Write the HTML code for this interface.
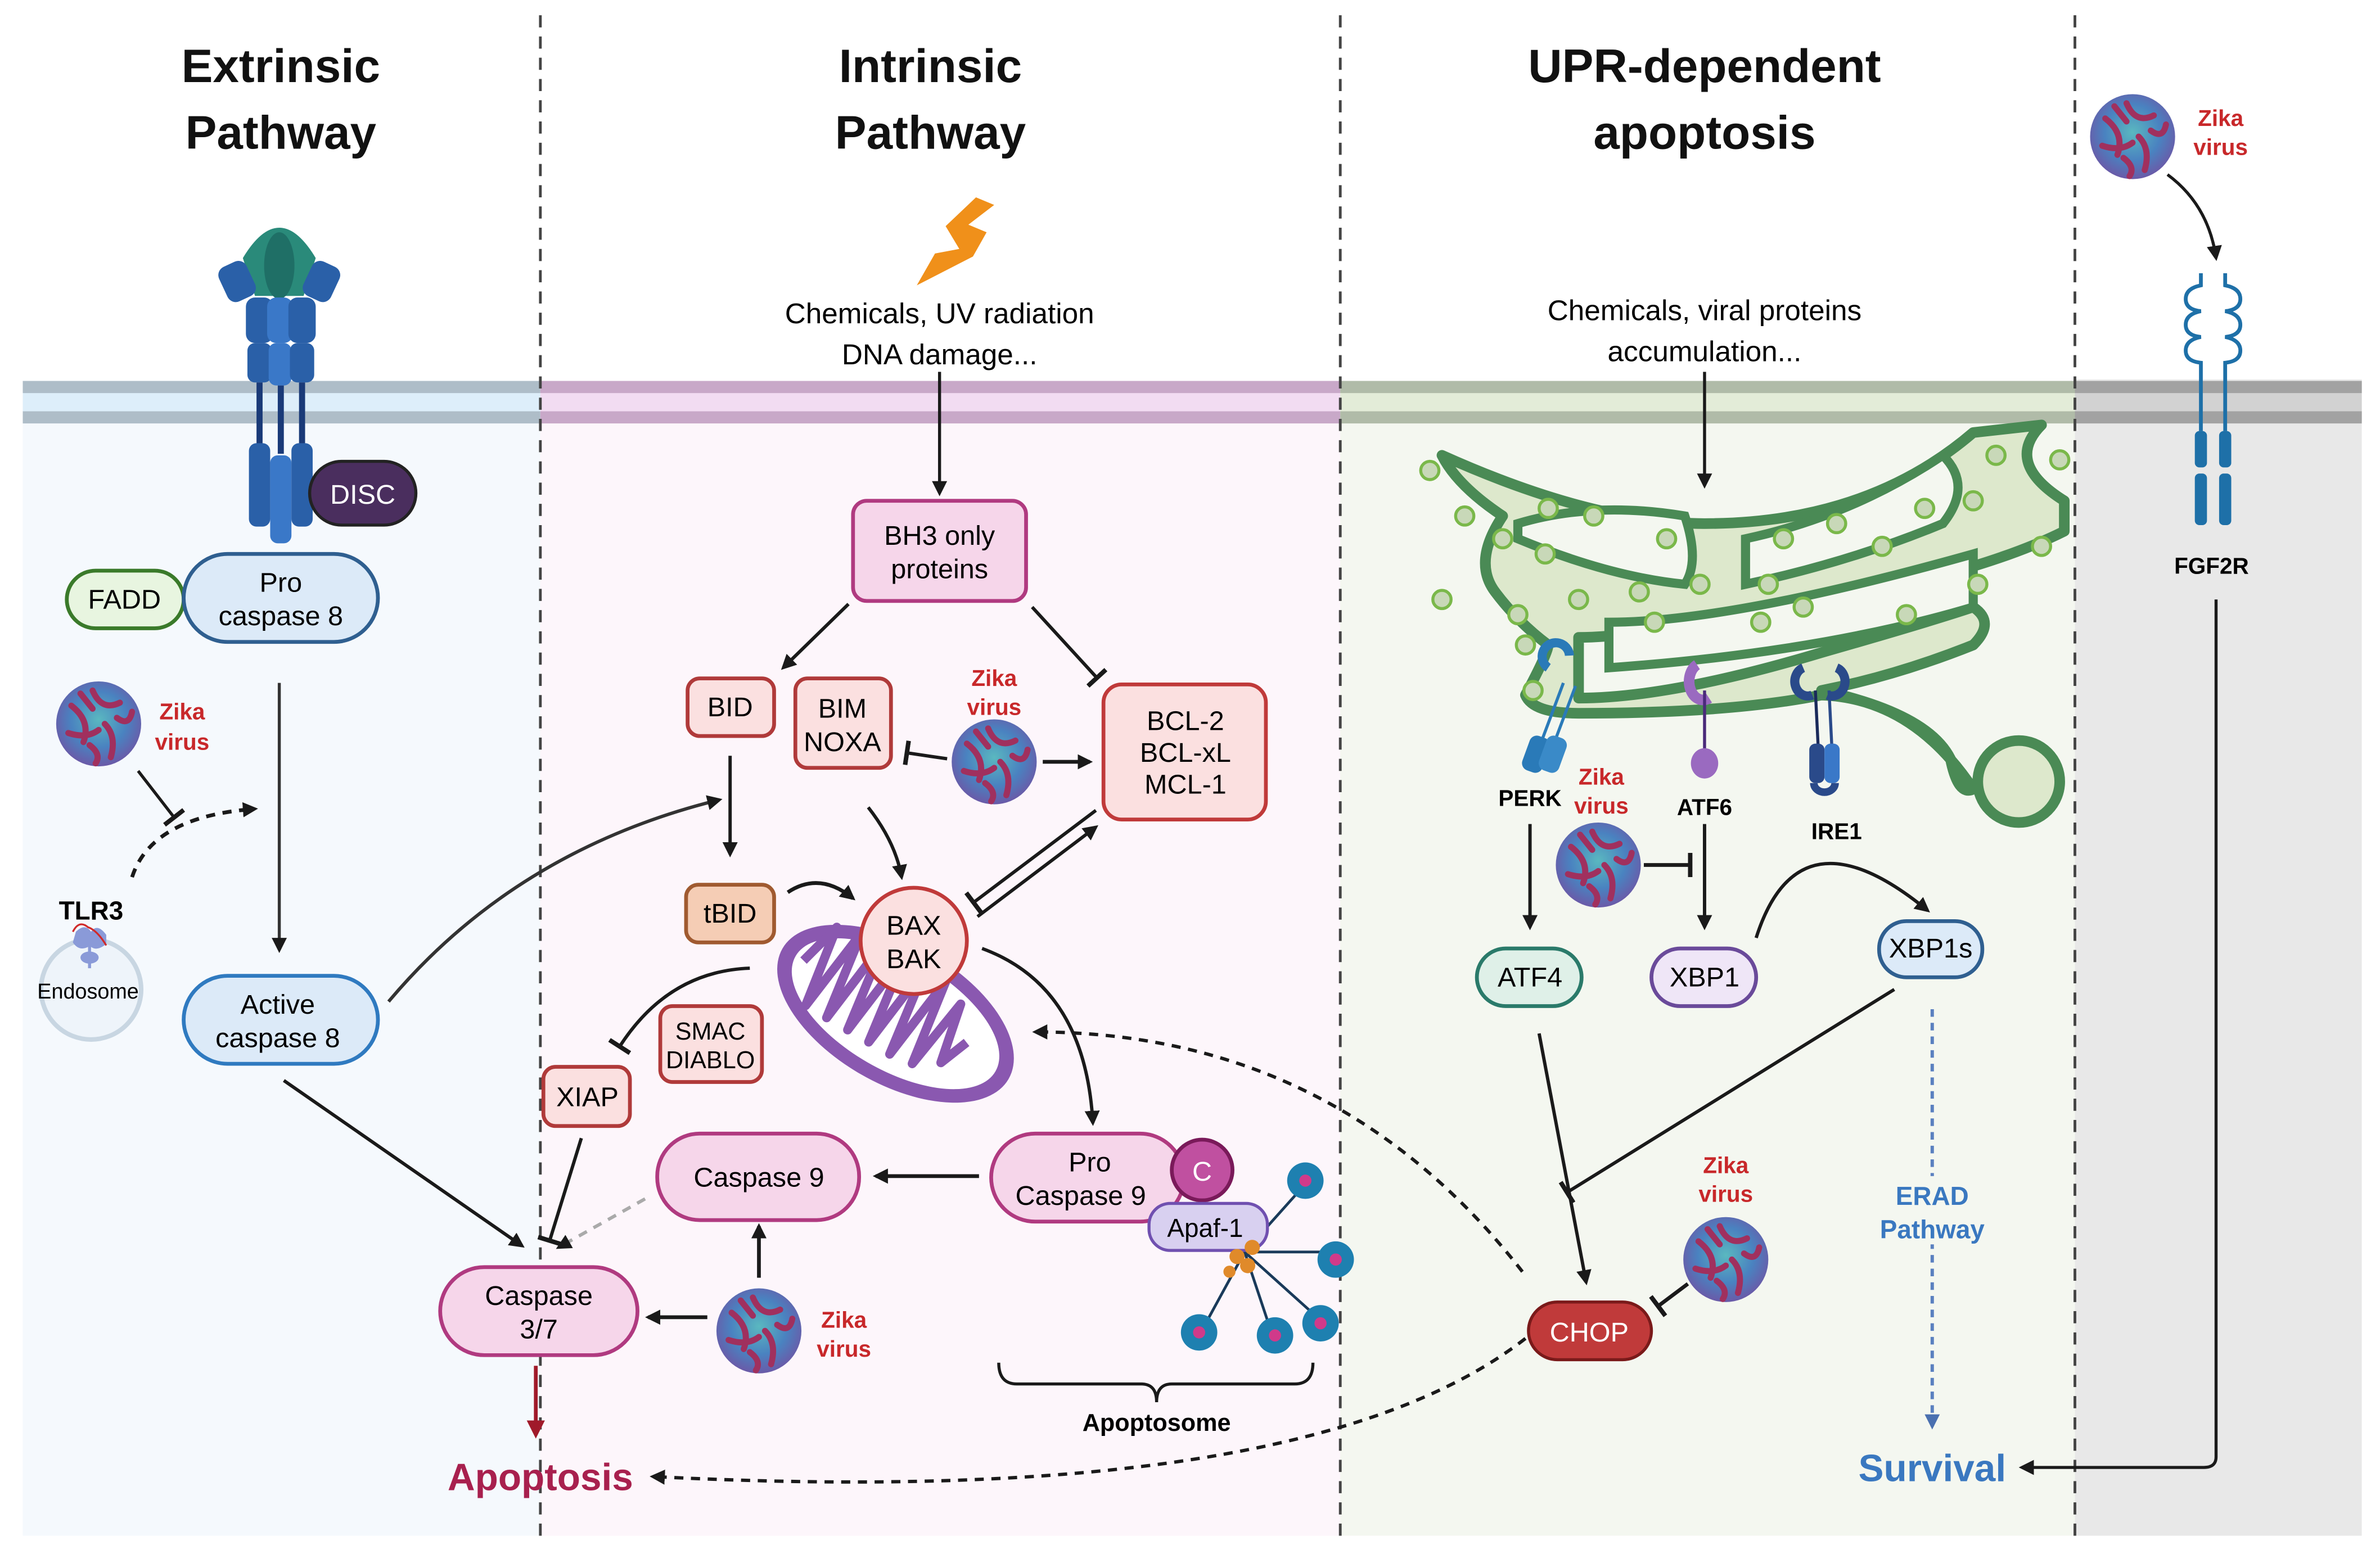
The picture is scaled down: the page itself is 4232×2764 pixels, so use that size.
<!DOCTYPE html>
<html><head><meta charset="utf-8">
<style>
html,body{margin:0;padding:0;background:#fff;}
svg{display:block;}
text{font-family:"Liberation Sans",sans-serif;}
</style></head>
<body>
<svg width="4232" height="2764" viewBox="0 0 1568 1024" xmlns="http://www.w3.org/2000/svg">
<defs>
<marker id="ah" markerWidth="10" markerHeight="10" refX="8" refY="5" orient="auto" markerUnits="userSpaceOnUse"><path d="M0,0 L10,5 L0,10 z" fill="#1a1a1a"/></marker>
<marker id="ahr" markerWidth="12" markerHeight="12" refX="9" refY="6" orient="auto" markerUnits="userSpaceOnUse"><path d="M0,0 L12,6 L0,12 z" fill="#a01a2a"/></marker>
<marker id="ahb" markerWidth="10" markerHeight="10" refX="8" refY="5" orient="auto" markerUnits="userSpaceOnUse"><path d="M0,0 L10,5 L0,10 z" fill="#4a70b0"/></marker>
<marker id="tb" markerWidth="4" markerHeight="16" refX="2" refY="8" orient="auto" markerUnits="userSpaceOnUse"><rect x="0" y="0" width="3" height="16" fill="#1a1a1a"/></marker>
<radialGradient id="zg" cx="50%" cy="45%" r="55%"><stop offset="0" stop-color="#5ab8c0"/><stop offset="0.6" stop-color="#4a82c0"/><stop offset="1" stop-color="#6a5aa8"/></radialGradient>
<g id="zika">
<circle r="28" fill="url(#zg)"/>
<path d="M-18,-12 Q-5,-2 -10,12 M-4,-22 Q2,-8 14,-14 M4,0 Q12,8 8,22 M-20,6 Q-8,10 0,4 M12,-4 Q20,2 22,-8 M-6,14 Q2,20 -2,26 M-12,-20 L-4,-10" stroke="#a0305e" stroke-width="4" fill="none" stroke-linecap="round"/>
</g>
</defs>

<!-- backgrounds -->
<rect x="15" y="278" width="341" height="734" fill="#f5f9fd"/>
<rect x="356" y="278" width="527" height="734" fill="#fdf6fb"/>
<rect x="883" y="278" width="484" height="734" fill="#f4f7f0"/>
<rect x="1367" y="250" width="189" height="762" fill="#e8e8e8"/>
<!-- membranes -->
<rect x="15" y="251" width="341" height="27" fill="#ddeefa"/><rect x="15" y="251" width="341" height="8" fill="#aebdc8"/><rect x="15" y="271" width="341" height="8" fill="#aebdc8"/>
<rect x="356" y="251" width="527" height="27" fill="#f2dcf2"/><rect x="356" y="251" width="527" height="8" fill="#c8a8c8"/><rect x="356" y="271" width="527" height="8" fill="#c8a8c8"/>
<rect x="883" y="251" width="484" height="27" fill="#e3ecd8"/><rect x="883" y="251" width="484" height="8" fill="#b0bba8"/><rect x="883" y="271" width="484" height="8" fill="#b0bba8"/>
<rect x="1367" y="251" width="189" height="27" fill="#d2d2d2"/><rect x="1367" y="251" width="189" height="8" fill="#a2a2a2"/><rect x="1367" y="271" width="189" height="8" fill="#a2a2a2"/>

<!-- dashed separators -->
<g stroke="#444" stroke-width="1.8" stroke-dasharray="8,6">
<line x1="356" y1="10" x2="356" y2="1015"/><line x1="883" y1="10" x2="883" y2="1015"/><line x1="1367" y1="10" x2="1367" y2="1015"/>
</g>

<!-- titles -->
<g font-weight="bold" font-size="31" text-anchor="middle" fill="#111">
<text x="185" y="54">Extrinsic</text><text x="185" y="98">Pathway</text>
<text x="613" y="54">Intrinsic</text><text x="613" y="98">Pathway</text>
<text x="1123" y="54">UPR-dependent</text><text x="1123" y="98">apoptosis</text>
</g>

<!-- ===== Extrinsic ===== -->
<g>
<path d="M160,170 Q184,130 208,170 L200,195 L168,195 Z" fill="#2a8a7a"/>
<ellipse cx="184" cy="175" rx="10" ry="22" fill="#1f6f66"/>
<rect x="146" y="173" width="20" height="25" rx="6" fill="#2a60a8" transform="rotate(-25 156 185)"/>
<rect x="202" y="173" width="20" height="25" rx="6" fill="#2a60a8" transform="rotate(25 212 185)"/>
<rect x="162" y="196" width="18" height="30" rx="6" fill="#2a60a8"/><rect x="176" y="196" width="17" height="30" rx="6" fill="#3a78c8"/><rect x="190" y="196" width="18" height="30" rx="6" fill="#2a60a8"/>
<rect x="163" y="226" width="16" height="26" rx="5" fill="#2a60a8"/><rect x="177" y="226" width="15" height="28" rx="5" fill="#3a78c8"/><rect x="191" y="226" width="16" height="26" rx="5" fill="#2a60a8"/>
<rect x="169" y="252" width="4" height="45" fill="#1a3a78"/><rect x="183" y="254" width="4" height="45" fill="#1a3a78"/><rect x="197" y="252" width="4" height="45" fill="#1a3a78"/>
<rect x="164" y="292" width="14" height="55" rx="5" fill="#2a60a8"/><rect x="178" y="300" width="14" height="58" rx="5" fill="#3a78c8"/><rect x="192" y="292" width="14" height="55" rx="5" fill="#2a60a8"/>
<rect x="204" y="304" width="70" height="42" rx="21" fill="#4a2e5e" stroke="#222" stroke-width="2"/>
<text x="239" y="332" font-size="18" fill="#fff" text-anchor="middle">DISC</text>
<rect x="44" y="376" width="77" height="38" rx="19" fill="#e8f5e0" stroke="#3a7a2a" stroke-width="2.5"/>
<text x="82" y="401" font-size="18" text-anchor="middle">FADD</text>
<rect x="121" y="365" width="128" height="58" rx="29" fill="#dceaf8" stroke="#2f5f90" stroke-width="2.5"/>
<text x="185" y="390" font-size="18" text-anchor="middle">Pro</text><text x="185" y="412" font-size="18" text-anchor="middle">caspase 8</text>
<use href="#zika" x="65" y="477"/>
<text x="120" y="474" font-size="15" font-weight="bold" fill="#c8282a" text-anchor="middle">Zika</text>
<text x="120" y="494" font-size="15" font-weight="bold" fill="#c8282a" text-anchor="middle">virus</text>
<line x1="184" y1="450" x2="184" y2="626" stroke="#333" stroke-width="2" marker-end="url(#ah)"/>
<path d="M87,578 Q100,538 168,533" stroke="#1a1a1a" stroke-width="2.5" fill="none" stroke-dasharray="6,5" marker-end="url(#ah)"/>
<line x1="91" y1="508" x2="115" y2="539" stroke="#1a1a1a" stroke-width="2" marker-end="url(#tb)"/>
<text x="60" y="606" font-size="17" font-weight="bold" text-anchor="middle">TLR3</text>
<circle cx="60" cy="652" r="33" fill="#eef4fa" stroke="#c8d6e2" stroke-width="3"/>
<path d="M50,614 q6,-6 10,0 q4,-6 10,2 v6 q-6,5 -10,2 v14 h-2 v-14 q-6,3 -10,-3 z" fill="#8a9ad8"/>
<ellipse cx="59" cy="631" rx="6" ry="4" fill="#8a9ad8"/>
<path d="M48,614 q4,-8 10,-3 q6,2 12,12" stroke="#d02a2a" stroke-width="1.2" fill="none"/>
<text x="58" y="658" font-size="14" text-anchor="middle">Endosome</text>
<rect x="121" y="643" width="128" height="58" rx="29" fill="#dceaf8" stroke="#2f7ac0" stroke-width="2.5"/>
<text x="183" y="668" font-size="18" text-anchor="middle">Active</text><text x="183" y="690" font-size="18" text-anchor="middle">caspase 8</text>
<line x1="187" y1="712" x2="344" y2="821" stroke="#1a1a1a" stroke-width="2.2" marker-end="url(#ah)"/>
<path d="M256,660 Q340,560 474,527" stroke="#333" stroke-width="2.2" fill="none" marker-end="url(#ah)"/>
<rect x="290" y="835" width="130" height="58" rx="29" fill="#f6d6ea" stroke="#b03a80" stroke-width="2.5"/>
<text x="355" y="860" font-size="18" text-anchor="middle">Caspase</text><text x="355" y="882" font-size="18" text-anchor="middle">3/7</text>
<line x1="353" y1="900" x2="353" y2="945" stroke="#a01a2a" stroke-width="2.5" marker-end="url(#ahr)"/>
<text x="356" y="982" font-size="25" font-weight="bold" fill="#a8204e" text-anchor="middle">Apoptosis</text>
</g>

<!-- ===== Intrinsic ===== -->
<g>
<polygon points="643,130 655,135 638,148 650,153 641,169 604,188 616,167 632,164 623,149" fill="#f0901a"/>
<text x="619" y="213" font-size="19" text-anchor="middle">Chemicals, UV radiation</text>
<text x="619" y="240" font-size="19" text-anchor="middle">DNA damage...</text>
<line x1="619" y1="245" x2="619" y2="325" stroke="#1a1a1a" stroke-width="2" marker-end="url(#ah)"/>
<rect x="562" y="330" width="114" height="66" rx="9" fill="#f6d6ea" stroke="#b03a80" stroke-width="2.5"/>
<text x="619" y="359" font-size="18" text-anchor="middle">BH3 only</text><text x="619" y="381" font-size="18" text-anchor="middle">proteins</text>
<line x1="559" y1="398" x2="516" y2="440" stroke="#1a1a1a" stroke-width="2.2" marker-end="url(#ah)"/>
<line x1="680" y1="400" x2="723" y2="447" stroke="#1a1a1a" stroke-width="2.2" marker-end="url(#tb)"/>
<rect x="453" y="447" width="57" height="38" rx="8" fill="#fbe0e0" stroke="#b03a3a" stroke-width="2.5"/>
<text x="481" y="472" font-size="18" text-anchor="middle">BID</text>
<rect x="524" y="447" width="63" height="59" rx="8" fill="#fbe0e0" stroke="#b03a3a" stroke-width="2.5"/>
<text x="555" y="473" font-size="18" text-anchor="middle">BIM</text><text x="555" y="495" font-size="18" text-anchor="middle">NOXA</text>
<use href="#zika" x="655" y="502"/>
<text x="655" y="452" font-size="15" font-weight="bold" fill="#c8282a" text-anchor="middle">Zika</text>
<text x="655" y="471" font-size="15" font-weight="bold" fill="#c8282a" text-anchor="middle">virus</text>
<line x1="624" y1="500" x2="597" y2="496" stroke="#1a1a1a" stroke-width="2.2" marker-end="url(#tb)"/>
<line x1="687" y1="502" x2="718" y2="502" stroke="#1a1a1a" stroke-width="2.5" marker-end="url(#ah)"/>
<rect x="727" y="451" width="107" height="89" rx="12" fill="#fbe0e0" stroke="#c03a3a" stroke-width="2.5"/>
<text x="781" y="481" font-size="18" text-anchor="middle">BCL-2</text><text x="781" y="502" font-size="18" text-anchor="middle">BCL-xL</text><text x="781" y="523" font-size="18" text-anchor="middle">MCL-1</text>
<line x1="481" y1="498" x2="481" y2="563" stroke="#1a1a1a" stroke-width="2.2" marker-end="url(#ah)"/>
<path d="M519,588 Q540,574 562,592" stroke="#1a1a1a" stroke-width="2.5" fill="none" marker-end="url(#ah)"/>
<path d="M572,532 Q590,555 594,578" stroke="#1a1a1a" stroke-width="2.2" fill="none" marker-end="url(#ah)"/>
<rect x="452" y="583" width="58" height="38" rx="8" fill="#f5cdb5" stroke="#a05a30" stroke-width="2.5"/>
<text x="481" y="608" font-size="18" text-anchor="middle">tBID</text>
<line x1="722" y1="534" x2="641" y2="595" stroke="#1a1a1a" stroke-width="2.2" marker-end="url(#tb)"/>
<line x1="644" y1="604" x2="722" y2="545" stroke="#1a1a1a" stroke-width="2.2" marker-end="url(#ah)"/>
<!-- mitochondrion -->
<g transform="rotate(30 590 668)">
<ellipse cx="590" cy="668" rx="86" ry="46" fill="#8a58b0"/>
<ellipse cx="590" cy="668" rx="76" ry="37" fill="#fff"/>
<path d="M520,668 l8,-30 l8,55 l8,-60 l8,60 l8,-62 l8,62 l8,-62 l8,62 l8,-62 l8,62 l8,-60 l8,58 l8,-50 l8,40 l8,-20" stroke="#8a58b0" stroke-width="6" fill="none" stroke-linejoin="round"/>
</g>
<circle cx="602" cy="620" r="35" fill="#fbe0e0" stroke="#c03a3a" stroke-width="2.5"/>
<text x="602" y="616" font-size="18" text-anchor="middle">BAX</text><text x="602" y="638" font-size="18" text-anchor="middle">BAK</text>
<rect x="435" y="663" width="67" height="50" rx="8" fill="#fbe0e0" stroke="#b03a3a" stroke-width="2.5"/>
<text x="468" y="685" font-size="16" text-anchor="middle">SMAC</text><text x="468" y="704" font-size="16" text-anchor="middle">DIABLO</text>
<path d="M494,638 Q440,640 408,690" stroke="#1a1a1a" stroke-width="2.2" fill="none" marker-end="url(#tb)"/>
<rect x="358" y="703" width="57" height="39" rx="8" fill="#fbe0e0" stroke="#b03a3a" stroke-width="2.5"/>
<text x="387" y="729" font-size="18" text-anchor="middle">XIAP</text>
<line x1="383" y1="750" x2="362" y2="818" stroke="#1a1a1a" stroke-width="2.2" marker-end="url(#tb)"/>
<path d="M647,625 Q715,650 720,740" stroke="#1a1a1a" stroke-width="2.2" fill="none" marker-end="url(#ah)"/>
<rect x="433" y="747" width="133" height="57" rx="28" fill="#f6d6ea" stroke="#b03a80" stroke-width="2.5"/>
<text x="500" y="782" font-size="18" text-anchor="middle">Caspase 9</text>
<rect x="653" y="747" width="127" height="58" rx="29" fill="#f6d6ea" stroke="#b03a80" stroke-width="2.5"/>
<text x="718" y="772" font-size="18" text-anchor="middle">Pro</text><text x="712" y="794" font-size="18" text-anchor="middle">Caspase 9</text>
<circle cx="792" cy="771" r="20" fill="#c050a0" stroke="#7a1a5a" stroke-width="2.5"/>
<text x="792" y="778" font-size="18" fill="#fff" text-anchor="middle">C</text>
<line x1="645" y1="775" x2="577" y2="775" stroke="#1a1a1a" stroke-width="2.5" marker-end="url(#ah)"/>
<line x1="425" y1="790" x2="368" y2="822" stroke="#aaa" stroke-width="2.2" stroke-dasharray="6,5" marker-end="url(#ah)"/>
<!-- apoptosome -->
<g stroke="#1a3a5a" stroke-width="1.8" fill="none">
<path d="M820,825 L862,778 M820,825 L880,825 M820,825 L870,870 M820,825 L840,885 M820,825 L790,880"/>
</g>
<g fill="#1e80b0">
<circle cx="860" cy="778" r="12"/><circle cx="880" cy="830" r="12"/><circle cx="870" cy="872" r="12"/><circle cx="840" cy="880" r="12"/><circle cx="790" cy="878" r="12"/>
</g>
<g fill="#d03a8a"><circle cx="860" cy="778" r="4"/><circle cx="880" cy="830" r="4"/><circle cx="870" cy="872" r="4"/><circle cx="840" cy="880" r="4"/><circle cx="790" cy="878" r="4"/></g>
<rect x="757" y="793" width="78" height="31" rx="14" fill="#d8d0f0" stroke="#7050b0" stroke-width="2"/>
<text x="794" y="815" font-size="17" text-anchor="middle">Apaf-1</text>
<g fill="#e08a2a"><circle cx="815" cy="828" r="5"/><circle cx="825" cy="822" r="5"/><circle cx="822" cy="834" r="5"/><circle cx="810" cy="838" r="4"/></g>
<path d="M658,898 Q658,912 670,912 L752,912 Q762,912 762,924 Q762,912 772,912 L853,912 Q865,912 865,898" stroke="#1a1a1a" stroke-width="2" fill="none"/>
<text x="762" y="943" font-size="16" font-weight="bold" text-anchor="middle">Apoptosome</text>
<use href="#zika" x="500" y="877"/>
<text x="556" y="875" font-size="15" font-weight="bold" fill="#c8282a" text-anchor="middle">Zika</text>
<text x="556" y="894" font-size="15" font-weight="bold" fill="#c8282a" text-anchor="middle">virus</text>
<line x1="500" y1="842" x2="500" y2="808" stroke="#1a1a1a" stroke-width="2.5" marker-end="url(#ah)"/>
<line x1="466" y1="868" x2="427" y2="868" stroke="#1a1a1a" stroke-width="2.5" marker-end="url(#ah)"/>
<path d="M1003,838 Q880,680 682,680" stroke="#1a1a1a" stroke-width="2.2" fill="none" stroke-dasharray="6,5" marker-end="url(#ah)"/>
<path d="M1005,882 Q860,995 430,973" stroke="#1a1a1a" stroke-width="2.2" fill="none" stroke-dasharray="6,5" marker-end="url(#ah)"/>
</g>

<!-- ===== UPR ===== -->
<g>
<text x="1123" y="211" font-size="19" text-anchor="middle">Chemicals, viral proteins</text>
<text x="1123" y="238" font-size="19" text-anchor="middle">accumulation...</text>
<!-- ER -->
<g stroke="#4a8a55" stroke-width="7" fill="#dde8cc" stroke-linejoin="round">
<path d="M950,300 Q1050,345 1123,345 Q1230,345 1300,285 L1345,280 Q1320,305 1360,330 L1360,350 Q1300,380 1180,400 Q1080,420 1040,420 L1040,460 Q1100,460 1200,430 Q1270,410 1300,400 Q1315,410 1300,425 Q1250,445 1200,455 Q1270,470 1285,500 Q1290,525 1300,520 Q1260,460 1200,458 Q1140,470 1040,470 Q1010,470 1005,458 Q1020,430 1020,425 Q1000,410 985,390 Q970,370 990,340 Q960,320 950,300 Z"/>
</g>
<g stroke="#4a8a55" stroke-width="6" fill="#f4f7f0">
<path d="M1000,355 Q1060,380 1110,385 Q1120,370 1110,340 Q1050,330 1000,345 Z"/>
<path d="M1150,355 Q1220,340 1280,300 Q1300,320 1280,345 Q1220,370 1150,385 Z"/>
<path d="M1060,410 Q1140,410 1300,365 L1300,400 Q1200,430 1060,440 Z"/>
</g>
<circle cx="1330" cy="515" r="27" fill="#dde8cc" stroke="#4a8a55" stroke-width="7"/>
<g fill="#c8d8b8" stroke="#7ab84a" stroke-width="2">
<circle cx="942" cy="310" r="6"/><circle cx="965" cy="340" r="6"/><circle cx="950" cy="395" r="6"/><circle cx="990" cy="355" r="6"/><circle cx="1018" cy="365" r="6"/><circle cx="1040" cy="395" r="6"/><circle cx="1080" cy="390" r="6"/><circle cx="1098" cy="355" r="6"/><circle cx="1165" cy="385" r="6"/><circle cx="1175" cy="355" r="6"/><circle cx="1210" cy="345" r="6"/><circle cx="1240" cy="360" r="6"/><circle cx="1268" cy="335" r="6"/><circle cx="1300" cy="330" r="6"/><circle cx="1315" cy="300" r="6"/><circle cx="1357" cy="303" r="6"/><circle cx="1345" cy="360" r="6"/><circle cx="1303" cy="385" r="6"/><circle cx="1256" cy="405" r="6"/><circle cx="1188" cy="400" r="6"/><circle cx="1160" cy="410" r="6"/><circle cx="1120" cy="385" r="6"/><circle cx="1000" cy="405" r="6"/><circle cx="1050" cy="340" r="6"/><circle cx="1090" cy="410" r="6"/><circle cx="1005" cy="425" r="6"/><circle cx="1020" cy="335" r="6"/><circle cx="1010" cy="455" r="6"/>
</g>
<line x1="1123" y1="245" x2="1123" y2="320" stroke="#1a1a1a" stroke-width="2" marker-end="url(#ah)"/>
<!-- receptors -->
<path d="M1020,440 a9,9 0 1 1 14,-8" stroke="#2a7ab8" stroke-width="6" fill="none"/>
<line x1="1030" y1="450" x2="1015" y2="490" stroke="#2a7ab8" stroke-width="2"/><line x1="1038" y1="452" x2="1023" y2="492" stroke="#2a7ab8" stroke-width="2"/>
<rect x="1005" y="485" width="14" height="24" rx="5" fill="#2a7ab8" transform="rotate(20 1012 497)"/><rect x="1016" y="485" width="14" height="24" rx="5" fill="#3a8ac8" transform="rotate(20 1023 497)"/>
<path d="M1118,438 a9,12 0 0 0 8,22" stroke="#9a6ac0" stroke-width="7" fill="none"/>
<line x1="1123" y1="455" x2="1123" y2="495" stroke="#4a2a7a" stroke-width="2"/>
<ellipse cx="1123" cy="503" rx="9" ry="10" fill="#9a6ac0"/>
<path d="M1188,440 a8,9 0 0 0 6,18 M1210,440 a8,9 0 0 1 -6,18" stroke="#2a4a8a" stroke-width="6" fill="none"/>
<line x1="1196" y1="455" x2="1198" y2="495" stroke="#1a2a5a" stroke-width="2"/><line x1="1205" y1="455" x2="1207" y2="495" stroke="#2a4a8a" stroke-width="2"/>
<rect x="1192" y="490" width="10" height="26" rx="4" fill="#2a4a8a"/><rect x="1202" y="490" width="10" height="26" rx="4" fill="#3a78c8"/>
<path d="M1195,516 a7,6 0 0 0 14,0" stroke="#2a4a8a" stroke-width="5" fill="none"/>
<text x="1008" y="531" font-size="15" font-weight="bold" text-anchor="middle">PERK</text>
<text x="1123" y="537" font-size="15" font-weight="bold" text-anchor="middle">ATF6</text>
<text x="1210" y="553" font-size="15" font-weight="bold" text-anchor="middle">IRE1</text>
<text x="1055" y="517" font-size="15" font-weight="bold" fill="#c8282a" text-anchor="middle">Zika</text>
<text x="1055" y="536" font-size="15" font-weight="bold" fill="#c8282a" text-anchor="middle">virus</text>
<use href="#zika" x="1053" y="570"/>
<line x1="1083" y1="570" x2="1114" y2="570" stroke="#1a1a1a" stroke-width="2.5" marker-end="url(#tb)"/>
<line x1="1008" y1="543" x2="1008" y2="611" stroke="#1a1a1a" stroke-width="2.2" marker-end="url(#ah)"/>
<line x1="1123" y1="543" x2="1123" y2="611" stroke="#1a1a1a" stroke-width="2.2" marker-end="url(#ah)"/>
<rect x="973" y="625" width="69" height="38" rx="19" fill="#dff0e8" stroke="#2a7a6a" stroke-width="2.5"/>
<text x="1008" y="650" font-size="18" text-anchor="middle">ATF4</text>
<rect x="1088" y="625" width="69" height="38" rx="19" fill="#efe6f7" stroke="#6a4a9a" stroke-width="2.5"/>
<text x="1123" y="650" font-size="18" text-anchor="middle">XBP1</text>
<rect x="1238" y="607" width="68" height="37" rx="18" fill="#dceaf8" stroke="#2f5f90" stroke-width="2.5"/>
<text x="1272" y="631" font-size="18" text-anchor="middle">XBP1s</text>
<path d="M1157,618 Q1185,530 1270,600" stroke="#1a1a1a" stroke-width="2.2" fill="none" marker-end="url(#ah)"/>
<line x1="1014" y1="681" x2="1045" y2="845" stroke="#1a1a1a" stroke-width="2.2" marker-end="url(#ah)"/>
<line x1="1248" y1="652" x2="1032" y2="786" stroke="#1a1a1a" stroke-width="2.2" marker-end="url(#tb)"/>
<text x="1137" y="773" font-size="15" font-weight="bold" fill="#c8282a" text-anchor="middle">Zika</text>
<text x="1137" y="792" font-size="15" font-weight="bold" fill="#c8282a" text-anchor="middle">virus</text>
<use href="#zika" x="1137" y="830"/>
<line x1="1112" y1="846" x2="1092" y2="861" stroke="#1a1a1a" stroke-width="2.5" marker-end="url(#tb)"/>
<rect x="1007" y="858" width="81" height="38" rx="19" fill="#c03a3a" stroke="#7a1a1a" stroke-width="2"/>
<text x="1047" y="884" font-size="18" fill="#fff" text-anchor="middle">CHOP</text>
<line x1="1273" y1="665" x2="1273" y2="940" stroke="#5a80c0" stroke-width="2.2" stroke-dasharray="5,4" marker-end="url(#ahb)"/>
<rect x="1235" y="775" width="76" height="45" fill="#f4f7f0"/>
<text x="1273" y="794" font-size="17" font-weight="bold" fill="#3a78c0" text-anchor="middle">ERAD</text>
<text x="1273" y="816" font-size="17" font-weight="bold" fill="#3a78c0" text-anchor="middle">Pathway</text>
<text x="1273" y="976" font-size="25" font-weight="bold" fill="#3a78c0" text-anchor="middle">Survival</text>
</g>

<!-- ===== far right ===== -->
<g>
<use href="#zika" x="1405" y="90"/>
<text x="1463" y="83" font-size="15" font-weight="bold" fill="#c8282a" text-anchor="middle">Zika</text>
<text x="1463" y="102" font-size="15" font-weight="bold" fill="#c8282a" text-anchor="middle">virus</text>
<path d="M1428,115 Q1455,135 1460,170" stroke="#1a1a1a" stroke-width="2" fill="none" marker-end="url(#ah)"/>
<g stroke="#1e70a8" stroke-width="2.5" fill="none">
<path d="M1450,180 v8 q-10,2 -10,9 q0,7 10,8 q-10,2 -10,9 q0,7 10,8 q-10,2 -10,9 q0,7 10,8 v45"/>
<path d="M1466,180 v8 q10,2 10,9 q0,7 -10,8 q10,2 10,9 q0,7 -10,8 q10,2 10,9 q0,7 -10,8 v45"/>
</g>
<rect x="1446" y="284" width="8" height="24" rx="3" fill="#1e70a8"/><rect x="1462" y="284" width="8" height="24" rx="3" fill="#1e70a8"/>
<rect x="1446" y="312" width="8" height="34" rx="3" fill="#1e70a8"/><rect x="1462" y="312" width="8" height="34" rx="3" fill="#1e70a8"/>
<text x="1457" y="378" font-size="15" font-weight="bold" text-anchor="middle">FGF2R</text>
<path d="M1460,395 L1460,960 Q1460,967 1452,967 L1332,967" stroke="#1a1a1a" stroke-width="2" fill="none" marker-end="url(#ah)"/>
</g>
</svg>
</body></html>
